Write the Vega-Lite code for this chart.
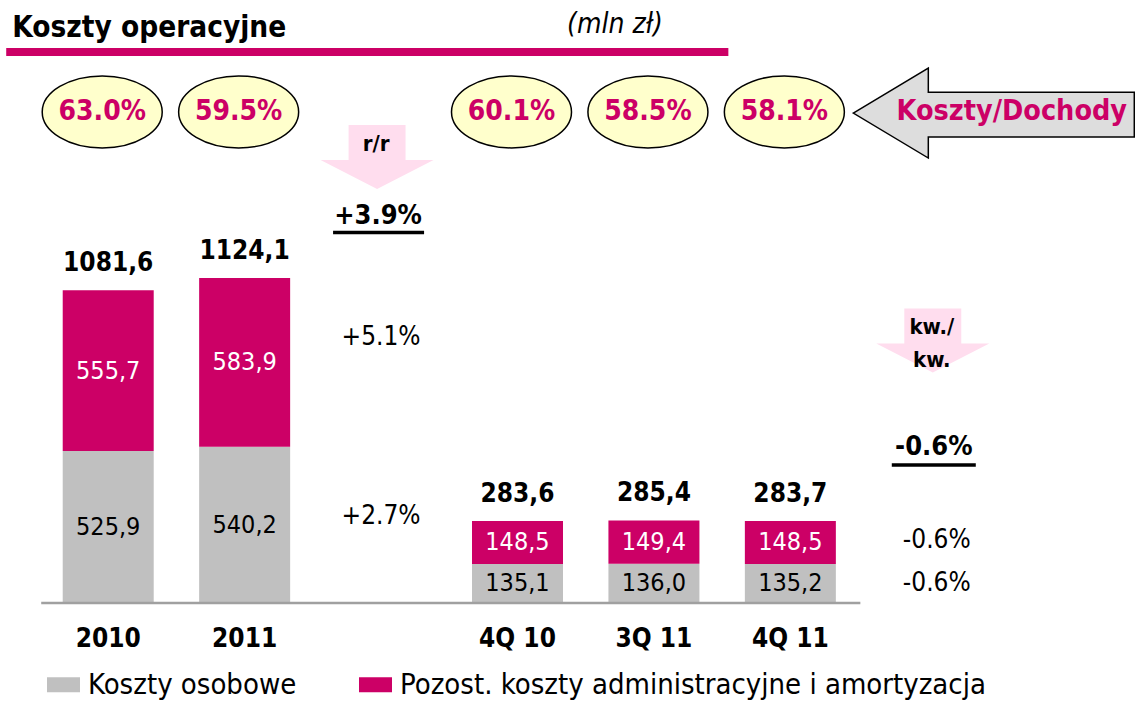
{
  "$schema": "https://vega.github.io/schema/vega-lite/v6.json",
  "width": 955,
  "height": 603,
  "autosize": "none",
  "padding": {"left": 40, "top": 0, "right": 140, "bottom": 100},
  "config": {
    "view": {"stroke": null},
    "font": "'DejaVu Sans Condensed', 'Liberation Sans Narrow', 'DejaVu Sans', sans-serif",
    "locale": {"number": {"decimal": ",", "thousands": " ", "grouping": [3], "currency": ["", " zł"]}},
    "text": {"color": "black"}
  },
  "datasets": {
    "costs": [
      {"cat": "2010", "comp": "Koszty osobowe", "value": 525.9},
      {"cat": "2010", "comp": "Pozost. koszty administracyjne i amortyzacja", "value": 555.7},
      {"cat": "2011", "comp": "Koszty osobowe", "value": 540.2},
      {"cat": "2011", "comp": "Pozost. koszty administracyjne i amortyzacja", "value": 583.9},
      {"cat": "4Q 10", "comp": "Koszty osobowe", "value": 135.1},
      {"cat": "4Q 10", "comp": "Pozost. koszty administracyjne i amortyzacja", "value": 148.5},
      {"cat": "3Q 11", "comp": "Koszty osobowe", "value": 136.0},
      {"cat": "3Q 11", "comp": "Pozost. koszty administracyjne i amortyzacja", "value": 149.4},
      {"cat": "4Q 11", "comp": "Koszty osobowe", "value": 135.2},
      {"cat": "4Q 11", "comp": "Pozost. koszty administracyjne i amortyzacja", "value": 148.5}
    ],
    "ratios": [
      {"cat": "2010", "ratio": "63.0%"},
      {"cat": "2011", "ratio": "59.5%"},
      {"cat": "4Q 10", "ratio": "60.1%"},
      {"cat": "3Q 11", "ratio": "58.5%"},
      {"cat": "4Q 11", "ratio": "58.1%"}
    ],
    "one": [{}]
  },
  "layer": [
    {
      "data": {"name": "costs"},
      "mark": {"type": "bar"},
      "encoding": {
        "x": {
          "field": "cat", "type": "nominal",
          "scale": {"domain": ["2010", "2011", "r/r", "4Q 10", "3Q 11", "4Q 11", "kw"], "paddingInner": 0.333, "paddingOuter": 0.1665},
          "axis": null
        },
        "y": {"field": "value", "type": "quantitative", "stack": "zero", "scale": {"domain": [0, 2085], "nice": false, "zero": true}, "axis": null},
        "color": {
          "field": "comp", "type": "nominal",
          "scale": {"domain": ["Koszty osobowe", "Pozost. koszty administracyjne i amortyzacja"], "range": ["#C0C0C0", "#CC0066"]},
          "legend": {
            "orient": "none", "legendX": 7, "legendY": 668, "direction": "horizontal", "title": null,
            "symbolType": "M-1,-0.45L1,-0.45L1,0.45L-1,0.45Z", "symbolSize": 1089, "symbolStrokeWidth": 0, "symbolOpacity": 1,
            "labelFontSize": 29, "labelOffset": 8, "columnPadding": 62, "labelLimit": 0, "labelColor": "black"
          }
        },
        "order": {"field": "comp", "sort": "ascending"}
      }
    },
    {
      "data": {"name": "costs"},
      "transform": [
        {"stack": "value", "groupby": ["cat"], "sort": [{"field": "comp", "order": "ascending"}], "as": ["v0", "v1"]},
        {"fold": ["v0", "v1"], "as": ["edge", "pos"]},
        {"aggregate": [{"op": "mean", "field": "pos", "as": "mid"}], "groupby": ["cat", "comp", "value"]}
      ],
      "mark": {"type": "text", "fontSize": 25, "baseline": "middle", "align": "center"},
      "encoding": {
        "x": {"field": "cat", "type": "nominal", "axis": null},
        "y": {"field": "mid", "type": "quantitative", "axis": null},
        "text": {"field": "value", "type": "quantitative", "format": ".1f"},
        "color": {"condition": {"test": "datum.comp !== 'Koszty osobowe'", "value": "white"}, "value": "black"}
      }
    },
    {
      "data": {"name": "costs"},
      "transform": [{"aggregate": [{"op": "sum", "field": "value", "as": "total"}], "groupby": ["cat"]}],
      "mark": {"type": "text", "fontSize": 26, "fontWeight": "bold", "baseline": "middle", "dy": -27, "color": "black"},
      "encoding": {
        "x": {"field": "cat", "type": "nominal", "axis": null},
        "y": {"field": "total", "type": "quantitative", "axis": null},
        "text": {"field": "total", "type": "quantitative", "format": ".1f"}
      }
    },
    {
      "data": {"name": "ratios"},
      "mark": {"type": "text", "fontSize": 26, "fontWeight": "bold", "baseline": "middle", "color": "black"},
      "encoding": {
        "x": {"field": "cat", "type": "nominal", "axis": null},
        "y": {"datum": -124.5, "type": "quantitative", "axis": null},
        "text": {"field": "cat", "type": "nominal"}
      }
    },
    {
      "data": {"name": "ratios"},
      "mark": {"type": "point", "shape": "M-1,0A1,0.6 0 1,1 1,0A1,0.6 0 1,1 -1,0Z", "size": 14400, "filled": true, "fill": "#FFFFCC", "stroke": "black", "strokeWidth": 1.5, "opacity": 1, "xOffset": -6},
      "encoding": {
        "x": {"field": "cat", "type": "nominal", "axis": null},
        "y": {"datum": 1698, "type": "quantitative", "axis": null}
      }
    },
    {
      "data": {"name": "ratios"},
      "mark": {"type": "text", "fontSize": 28, "fontWeight": "bold", "color": "#CC0066", "baseline": "middle", "xOffset": -6},
      "encoding": {
        "x": {"field": "cat", "type": "nominal", "axis": null},
        "y": {"datum": 1698, "type": "quantitative", "axis": null},
        "text": {"field": "ratio", "type": "nominal"}
      }
    },
    {
      "data": {"name": "one"},
      "mark": {"type": "text", "text": "Koszty operacyjne", "fontSize": 29.5, "fontWeight": "bold", "align": "left", "baseline": "middle", "xOffset": -96, "color": "black"},
      "encoding": {
        "x": {"datum": "2010", "type": "nominal", "axis": null},
        "y": {"datum": 1988, "type": "quantitative", "axis": null}
      }
    },
    {
      "data": {"name": "one"},
      "mark": {"type": "text", "text": "(mln zł)", "fontSize": 28, "fontStyle": "italic", "align": "center", "baseline": "middle", "xOffset": -39, "color": "black"},
      "encoding": {
        "x": {"datum": "3Q 11", "type": "nominal", "axis": null},
        "y": {"datum": 1999, "type": "quantitative", "axis": null}
      }
    },
    {
      "data": {"name": "one"},
      "mark": {"type": "rule", "color": "#CC0066", "strokeWidth": 8, "xOffset": -102, "x2Offset": -62},
      "encoding": {
        "x": {"datum": "2010", "type": "nominal", "axis": null},
        "x2": {"datum": "4Q 11"},
        "y": {"datum": 1905, "type": "quantitative", "axis": null}
      }
    },
    {
      "data": {"name": "one"},
      "mark": {"type": "rule", "color": "#A0A0A0", "strokeWidth": 2.5, "xOffset": -67, "x2Offset": 70},
      "encoding": {
        "x": {"datum": "2010", "type": "nominal", "axis": null},
        "x2": {"datum": "4Q 11"},
        "y": {"datum": 0, "type": "quantitative", "axis": null}
      }
    },
    {
      "data": {"name": "one"},
      "mark": {"type": "point", "shape": "M-1,0L-0.466,-0.32L-0.466,-0.149L1,-0.149L1,0.171L-0.466,0.171L-0.466,0.32Z", "size": 78961, "filled": true, "fill": "#DDDDDD", "stroke": "black", "strokeWidth": 1.5, "opacity": 1, "xOffset": 67},
      "encoding": {
        "x": {"datum": "kw", "type": "nominal", "axis": null},
        "y": {"datum": 1694, "type": "quantitative", "axis": null}
      }
    },
    {
      "data": {"name": "one"},
      "mark": {"type": "text", "text": "Koszty/Dochody", "fontSize": 28.5, "fontWeight": "bold", "color": "#CC0066", "baseline": "middle", "xOffset": 85},
      "encoding": {
        "x": {"datum": "kw", "type": "nominal", "axis": null},
        "y": {"datum": 1701, "type": "quantitative", "axis": null}
      }
    },
    {
      "data": {"name": "one"},
      "mark": {"type": "point", "shape": "M-0.504,-0.566L0.504,-0.566L0.504,0.053L1,0.053L0,0.566L-1,0.053L-0.504,0.053Z", "size": 12769, "filled": true, "fill": "#FFDDEE", "strokeWidth": 0, "opacity": 1, "xOffset": -4},
      "encoding": {
        "x": {"datum": "r/r", "type": "nominal", "axis": null},
        "y": {"datum": 1542, "type": "quantitative", "axis": null}
      }
    },
    {
      "data": {"name": "one"},
      "mark": {"type": "text", "text": "r/r", "fontSize": 22, "fontWeight": "bold", "baseline": "middle", "xOffset": -5, "color": "black"},
      "encoding": {
        "x": {"datum": "r/r", "type": "nominal", "axis": null},
        "y": {"datum": 1587, "type": "quantitative", "axis": null}
      }
    },
    {
      "data": {"name": "one"},
      "mark": {"type": "text", "text": "+3.9%", "fontSize": 27, "fontWeight": "bold", "baseline": "middle", "xOffset": -3, "color": "black"},
      "encoding": {
        "x": {"datum": "r/r", "type": "nominal", "axis": null},
        "y": {"datum": 1338, "type": "quantitative", "axis": null}
      }
    },
    {
      "data": {"name": "one"},
      "mark": {"type": "rule", "color": "black", "strokeWidth": 3.5, "xOffset": -48, "x2Offset": 43},
      "encoding": {
        "x": {"datum": "r/r", "type": "nominal", "axis": null},
        "x2": {"datum": "r/r"},
        "y": {"datum": 1281, "type": "quantitative", "axis": null}
      }
    },
    {
      "data": {"name": "one"},
      "mark": {"type": "text", "text": "+5.1%", "fontSize": 26, "baseline": "middle", "color": "black"},
      "encoding": {
        "x": {"datum": "r/r", "type": "nominal", "axis": null},
        "y": {"datum": 920, "type": "quantitative", "axis": null}
      }
    },
    {
      "data": {"name": "one"},
      "mark": {"type": "text", "text": "+2.7%", "fontSize": 26, "baseline": "middle", "color": "black"},
      "encoding": {
        "x": {"datum": "r/r", "type": "nominal", "axis": null},
        "y": {"datum": 301, "type": "quantitative", "axis": null}
      }
    },
    {
      "data": {"name": "one"},
      "mark": {"type": "point", "shape": "M-0.504,-0.566L0.504,-0.566L0.504,0.053L1,0.053L0,0.566L-1,0.053L-0.504,0.053Z", "size": 12769, "filled": true, "fill": "#FFDDEE", "strokeWidth": 0, "opacity": 1, "xOffset": 6},
      "encoding": {
        "x": {"datum": "kw", "type": "nominal", "axis": null},
        "y": {"datum": 908, "type": "quantitative", "axis": null}
      }
    },
    {
      "data": {"name": "one"},
      "mark": {"type": "text", "text": ["kw./", "kw."], "lineHeight": 33, "fontSize": 22, "fontWeight": "bold", "baseline": "middle", "xOffset": 5, "color": "black"},
      "encoding": {
        "x": {"datum": "kw", "type": "nominal", "axis": null},
        "y": {"datum": 954, "type": "quantitative", "axis": null}
      }
    },
    {
      "data": {"name": "one"},
      "mark": {"type": "text", "text": "-0.6%", "fontSize": 27, "fontWeight": "bold", "baseline": "middle", "xOffset": 7, "color": "black"},
      "encoding": {
        "x": {"datum": "kw", "type": "nominal", "axis": null},
        "y": {"datum": 539, "type": "quantitative", "axis": null}
      }
    },
    {
      "data": {"name": "one"},
      "mark": {"type": "rule", "color": "black", "strokeWidth": 3.5, "xOffset": -35, "x2Offset": 49},
      "encoding": {
        "x": {"datum": "kw", "type": "nominal", "axis": null},
        "x2": {"datum": "kw"},
        "y": {"datum": 477, "type": "quantitative", "axis": null}
      }
    },
    {
      "data": {"name": "one"},
      "mark": {"type": "text", "text": "-0.6%", "fontSize": 26, "baseline": "middle", "xOffset": 10, "color": "black"},
      "encoding": {
        "x": {"datum": "kw", "type": "nominal", "axis": null},
        "y": {"datum": 218, "type": "quantitative", "axis": null}
      }
    },
    {
      "data": {"name": "one"},
      "mark": {"type": "text", "text": "-0.6%", "fontSize": 26, "baseline": "middle", "xOffset": 10, "color": "black"},
      "encoding": {
        "x": {"datum": "kw", "type": "nominal", "axis": null},
        "y": {"datum": 69, "type": "quantitative", "axis": null}
      }
    }
  ]
}
